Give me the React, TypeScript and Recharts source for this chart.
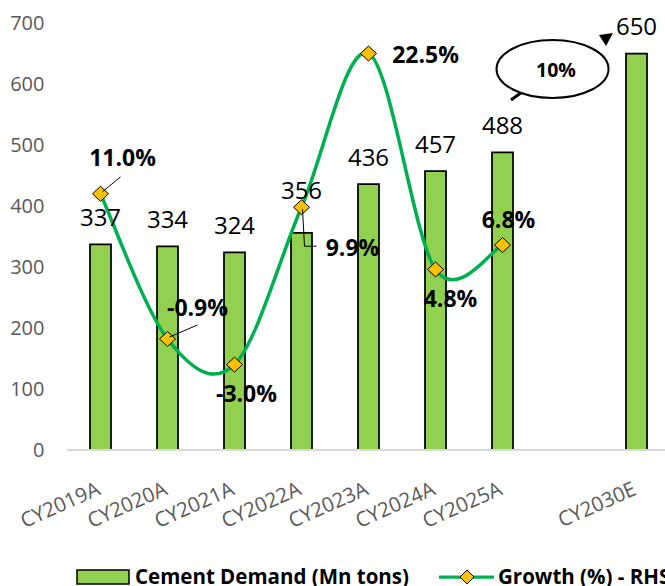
import React from 'react';
import { ComposedChart, Bar, Line, XAxis, YAxis, Legend, LabelList, ReferenceDot } from 'recharts';

// ---- data ----
const categories = ['CY2019A', 'CY2020A', 'CY2021A', 'CY2022A', 'CY2023A', 'CY2024A', 'CY2025A', ' ', 'CY2030E'];
const demand: (number | null)[] = [337, 334, 324, 356, 436, 457, 488, null, 650];
const growth: (number | null)[] = [11.0, -0.9, -3.0, 9.9, 22.5, 4.8, 6.8, null, null];
const demandTicks = [0, 100, 200, 300, 400, 500, 600, 700];
const calloutText = '10%';
const demandName = 'Cement Demand (Mn tons)';
const growthName = 'Growth (%) - RHS';

const data = categories.map((c, i) => ({ cat: c, demand: demand[i], growth: growth[i] }));

// ---- layout / style ----
const FONT = "'Open Sans', 'DejaVu Sans', sans-serif";
const BAR_FILL = '#92D050';
const LINE_COLOR = '#00B050';
const MARKER_FILL = '#FFC000';
const AXIS_TEXT = '#595959';

// growth label placement relative to each marker
const growthLabelOffsets = [
  { dx: 22, dy: -36, leader: [[2, -2], [20, -17]] },
  { dx: 30, dy: -31, leader: [[2, -2], [30, -14]] },
  { dx: 12, dy: 29, leader: null },
  { dx: 51, dy: 40, leader: [[1, 2], [3, 39], [15, 39]] },
  { dx: 57, dy: 1, leader: null },
  { dx: 15, dy: 29, leader: null },
  { dx: 6, dy: -25, leader: null },
];

// Excel-like smoothed line (uniform Catmull-Rom as cubic Beziers)
function excelSmooth(context: any) {
  let pts: number[][] = [];
  return {
    areaStart() {},
    areaEnd() {},
    lineStart() {
      pts = [];
    },
    lineEnd() {
      const n = pts.length;
      if (n === 0) return;
      context.moveTo(pts[0][0], pts[0][1]);
      for (let i = 0; i < n - 1; i++) {
        const p0 = pts[Math.max(0, i - 1)];
        const p1 = pts[i];
        const p2 = pts[i + 1];
        const p3 = pts[Math.min(n - 1, i + 2)];
        context.bezierCurveTo(
          p1[0] + (p2[0] - p0[0]) / 6,
          p1[1] + (p2[1] - p0[1]) / 6,
          p2[0] - (p3[0] - p1[0]) / 6,
          p2[1] - (p3[1] - p1[1]) / 6,
          p2[0],
          p2[1]
        );
      }
    },
    point(x: number, y: number) {
      pts.push([+x, +y]);
    },
  };
}

const getBox = (props: any) => {
  const vb = props.viewBox || {};
  return {
    x: props.x != null ? +props.x : vb.x,
    y: props.y != null ? +props.y : vb.y,
    width: props.width != null ? +props.width : vb.width || 0,
  };
};

const BarValueLabel = (props: any) => {
  const { value, index } = props;
  if (value == null) return null;
  const { x, y, width } = getBox(props);
  const lift = index === 3 ? 42 : 27;
  return (
    <text x={x + width / 2} y={y - lift} dy="0.36em" textAnchor="middle" fontSize={24} fill="#000" fontFamily={FONT}>
      {value}
    </text>
  );
};

const GrowthLabel = (props: any) => {
  const { value, index } = props;
  if (value == null) return null;
  const { x, y } = getBox(props);
  const o = growthLabelOffsets[index];
  if (!o) return null;
  return (
    <g>
      {o.leader && (
        <polyline
          points={o.leader.map((p) => `${x + p[0]},${y + p[1]}`).join(' ')}
          fill="none"
          stroke="#000"
          strokeWidth={1}
        />
      )}
      <text
        x={x + o.dx}
        y={y + o.dy}
        dy="0.36em"
        textAnchor="middle"
        fontSize={23}
        fontWeight="bold"
        fill="#000"
        fontFamily={FONT}
      >
        {value.toFixed(1)}%
      </text>
    </g>
  );
};

const Diamond = (props: any) => {
  const { cx, cy, index, value } = props;
  if (cx == null || cy == null || value == null) return <g key={`d${index}`} />;
  return (
    <polygon
      key={`d${index}`}
      points={`${cx},${cy - 7.5} ${cx + 8},${cy} ${cx},${cy + 7.5} ${cx - 8},${cy}`}
      fill={MARKER_FILL}
      stroke="#000"
      strokeWidth={1}
    />
  );
};

const XTick = (props: any) => {
  const { x, y, payload } = props;
  const ax = x + 1;
  const ay = y + 44;
  return (
    <text
      x={ax}
      y={ay}
      textAnchor="end"
      fontSize={20.5}
      fill={AXIS_TEXT}
      fontFamily={FONT}
      transform={`rotate(-24, ${ax}, ${ay})`}
    >
      {payload.value}
    </text>
  );
};

const Callout = (props: any) => {
  const { cx, cy } = props;
  if (cx == null || cy == null) return <g />;
  return (
    <g>
      <line x1={cx - 104} y1={cy + 31} x2={cx - 125.5} y2={cy + 46.5} stroke="#000" strokeWidth={3} />
      <ellipse cx={cx - 84} cy={cy + 15.5} rx={56} ry={29} fill="#fff" stroke="#000" strokeWidth={2} />
      <text
        x={cx - 80.5}
        y={cy + 16.5}
        dy="0.36em"
        textAnchor="middle"
        fontSize={19.5}
        fontWeight="bold"
        fill="#000"
        fontFamily={FONT}
      >
        {calloutText}
      </text>
      <polygon
        points={`${cx - 37.5},${cy - 18.5} ${cx - 23.5},${cy - 20.5} ${cx - 30.5},${cy - 7.5}`}
        fill="#000"
      />
    </g>
  );
};

const renderLegend = () => (
  <svg width={700} height={30} style={{ display: 'block' }}>
    <rect x={77} y={14} width={52} height={14} fill={BAR_FILL} stroke="#000" strokeWidth={1.5} />
    <text x={135} y={28} fontSize={20.5} fontWeight="bold" fill="#000" fontFamily={FONT}>
      {demandName}
    </text>
    <line x1={439} x2={494} y1={21} y2={21} stroke={LINE_COLOR} strokeWidth={3.25} />
    <polygon points="467,14 474,21 467,28 460,21" fill={MARKER_FILL} stroke="#000" strokeWidth={1} />
    <text x={498} y={28} fontSize={20.5} fontWeight="bold" fill="#000" fontFamily={FONT}>
      {growthName}
    </text>
  </svg>
);

export default function App() {
  return (
    <div
      style={{
        position: 'absolute',
        left: 0,
        top: 0,
        width: 665,
        height: 586,
        overflow: 'hidden',
        background: '#fff',
      }}
    >
      <ComposedChart
        width={700}
        height={586}
        data={data}
        margin={{ top: 23, right: 30, bottom: 16, left: 0 }}
        style={{ fontFamily: FONT }}
      >
        <XAxis
          dataKey="cat"
          interval={0}
          tickLine={false}
          tickSize={0}
          tickMargin={0}
          axisLine={{ stroke: '#D9D9D9', strokeWidth: 2 }}
          tick={<XTick />}
          height={90}
        />
        <YAxis
          yAxisId="left"
          domain={[0, 700]}
          ticks={demandTicks}
          width={67}
          axisLine={false}
          tickLine={false}
          tickSize={0}
          tickMargin={22.5}
          tick={{ fontSize: 20, fill: AXIS_TEXT, fontFamily: FONT }}
        />
        <YAxis yAxisId="right" orientation="right" domain={[-10, 25]} hide />
        <Legend
          verticalAlign="bottom"
          height={30}
          content={renderLegend}
          wrapperStyle={{ left: 0, top: 556, bottom: 'auto', width: 700, height: 30 }}
        />
        <Bar
          yAxisId="left"
          dataKey="demand"
          name={demandName}
          barSize={21}
          fill={BAR_FILL}
          stroke="#000"
          strokeWidth={1.75}
          isAnimationActive={false}
        >
          <LabelList dataKey="demand" content={<BarValueLabel />} />
        </Bar>
        <Line
          yAxisId="right"
          dataKey="growth"
          name={growthName}
          type={excelSmooth as any}
          stroke={LINE_COLOR}
          strokeWidth={3.5}
          dot={Diamond}
          activeDot={false}
          connectNulls={false}
          isAnimationActive={false}
        >
          <LabelList dataKey="growth" content={<GrowthLabel />} />
        </Line>
        <ReferenceDot yAxisId="left" x="CY2030E" y={650} r={0} shape={(p: any) => <Callout {...p} />} />
      </ComposedChart>
    </div>
  );
}
